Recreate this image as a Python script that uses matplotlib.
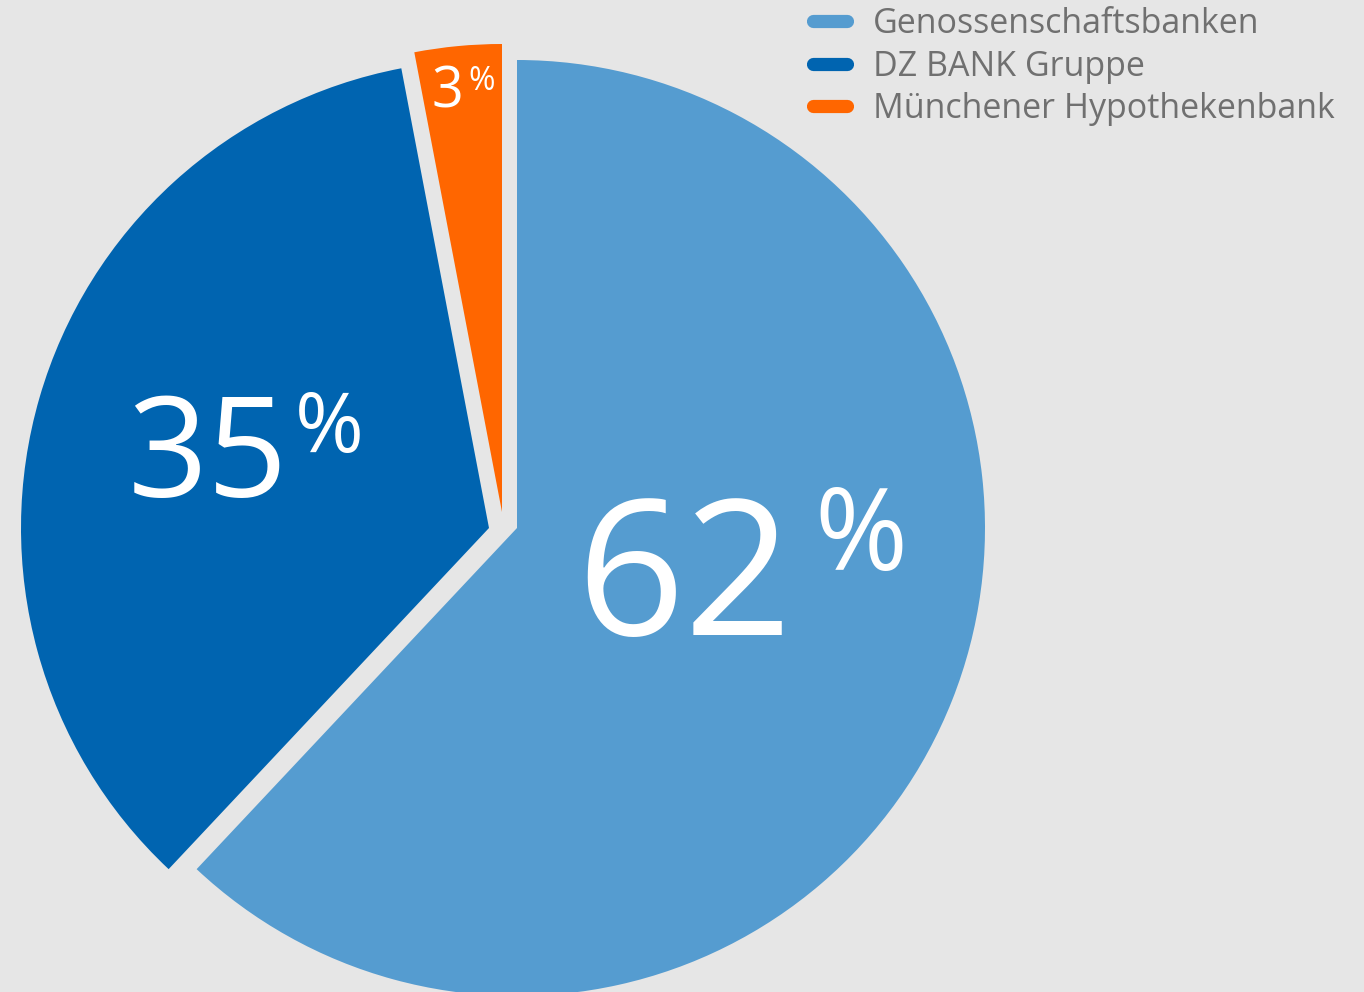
import matplotlib
matplotlib.use("Agg")
import matplotlib.pyplot as plt
from matplotlib.lines import Line2D

plt.rcParams['font.family'] = ['Open Sans', 'DejaVu Sans']

categories = ["Genossenschaftsbanken", "DZ BANK Gruppe", "Münchener Hypothekenbank"]
shares = [62, 35, 3]
colors = ["#559CD0", "#0064B0", "#FF6600"]
BG = "#E6E6E6"

W, H = 1364, 992
fig = plt.figure(figsize=(W / 100, H / 100), dpi=100, facecolor=BG)
ax = fig.add_axes([0, 0, 1, 1])
ax.set_facecolor(BG)

wedges, _ = ax.pie(shares, colors=colors, startangle=90, counterclock=False,
                   radius=468, center=(517, 464), wedgeprops=dict(linewidth=0),
                   frame=True)
# individual slice displacement (pixels)
offsets = [(0, 0), (-28, 0), (-15, 16)]
for w, (dx, dy) in zip(wedges, offsets):
    cx, cy = w.center
    w.set_center((cx + dx, cy + dy))

ax.set_xlim(0, W)
ax.set_ylim(0, H)
ax.set_aspect('equal')
ax.axis('off')

# percentage labels: (number position, number size, percent position, percent size)
label_specs = [
    ((576, 357), 136, (814, 422), 81),
    ((128, 495), 101, (295, 540), 60),
    ((432, 884), 40, (468, 902), 23),
]
for val, (npos, nsize, ppos, psize) in zip(shares, label_specs):
    ax.text(npos[0], npos[1], f"{val}", color="white", fontsize=nsize,
            ha="left", va="baseline")
    ax.text(ppos[0], ppos[1], "%", color="white", fontsize=psize,
            ha="left", va="baseline")

handles = [Line2D([0], [0], color=c, lw=9.5, solid_capstyle="round") for c in colors]
leg = ax.legend(handles, categories, loc="upper left",
                bbox_to_anchor=(813 / W, 1 - 7 / H), frameon=False,
                fontsize=24.5, labelcolor="#707070", handlelength=1.0,
                handletextpad=0.75, labelspacing=0.25, borderpad=0,
                borderaxespad=0)

fig.savefig("out.png", dpi=100, facecolor=BG)
